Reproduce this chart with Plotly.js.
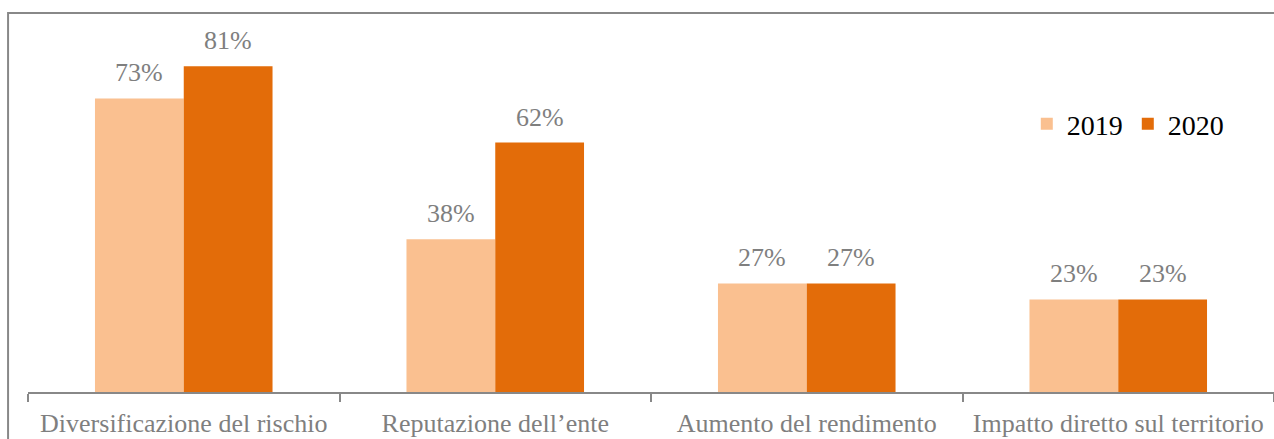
<!DOCTYPE html>
<html>
<head>
<meta charset="utf-8">
<script src="https://cdn.plot.ly/plotly-3.0.1.min.js"></script>
<style>html,body{margin:0;padding:0;overflow:hidden;background:#fff;}</style>
</head>
<body>
<div id="chart" style="width:1274px;height:439px;"></div>
<script>
const categories = ["Diversificazione del rischio", "Reputazione dell\u2019ente", "Aumento del rendimento", "Impatto diretto sul territorio"];
const values2019 = [0.73, 0.38, 0.27, 0.23];
const values2020 = [0.81, 0.62, 0.27, 0.23];
const seriesNames = ["2019", "2020"];
const seriesColors = ["#FAC090", "#E36C09"];

const serif = "Liberation Serif, Times New Roman, serif";
const labelFont = {family: serif, size: 26, color: "#7f7f7f"};
const fmt = v => Math.round(v * 100) + "%";

const allValues = [values2019, values2020];
const traces = allValues.map((vals, i) => ({
  type: "bar", name: seriesNames[i], x: categories, y: vals,
  marker: {color: seriesColors[i]}, hoverinfo: "none", offsetgroup: String(i)
}));

// value labels placed through the axes (one per bar)
const annotations = [];
allValues.forEach((vals, i) => {
  vals.forEach((v, j) => {
    annotations.push({
      x: categories[j], y: v, xref: "x", yref: "y", text: fmt(v),
      showarrow: false, yanchor: "bottom", xanchor: "center",
      xshift: (i === 0 ? -1 : 1) * 44.5, yshift: 9, font: labelFont
    });
  });
});

const layout = {
  width: 1274, height: 439,
  margin: {l: 28, r: 0, t: 30, b: 47},
  paper_bgcolor: "#fff", plot_bgcolor: "#fff",
  barmode: "group", bargap: 0.43, bargroupgap: 0,
  xaxis: {type: "category", showline: true, linecolor: "#888888", linewidth: 2,
          ticks: "outside", tickson: "boundaries", ticklen: 8, tickcolor: "#888888", tickwidth: 2,
          ticklabelstandoff: 7,
          tickfont: labelFont, showgrid: false, zeroline: false, fixedrange: true},
  yaxis: {range: [0, 0.9], visible: false, showgrid: false, zeroline: false, fixedrange: true},
  showlegend: true,
  legend: {orientation: "h", x: 0.8016, y: 0.74, xanchor: "left", yanchor: "middle",
           font: {family: serif, size: 28, color: "#000"},
           bgcolor: "rgba(0,0,0,0)", itemwidth: 30, traceorder: "normal"},
  annotations: annotations,
  shapes: [{type: "rect", xref: "paper", yref: "paper", x0: -0.016, x1: 1.05, y0: -0.3, y1: 1.047,
            line: {color: "#888888", width: 2}, fillcolor: "rgba(0,0,0,0)", layer: "above"}]
};

Plotly.newPlot("chart", traces, layout, {displayModeBar: false, staticPlot: true});
</script>
</body>
</html>
